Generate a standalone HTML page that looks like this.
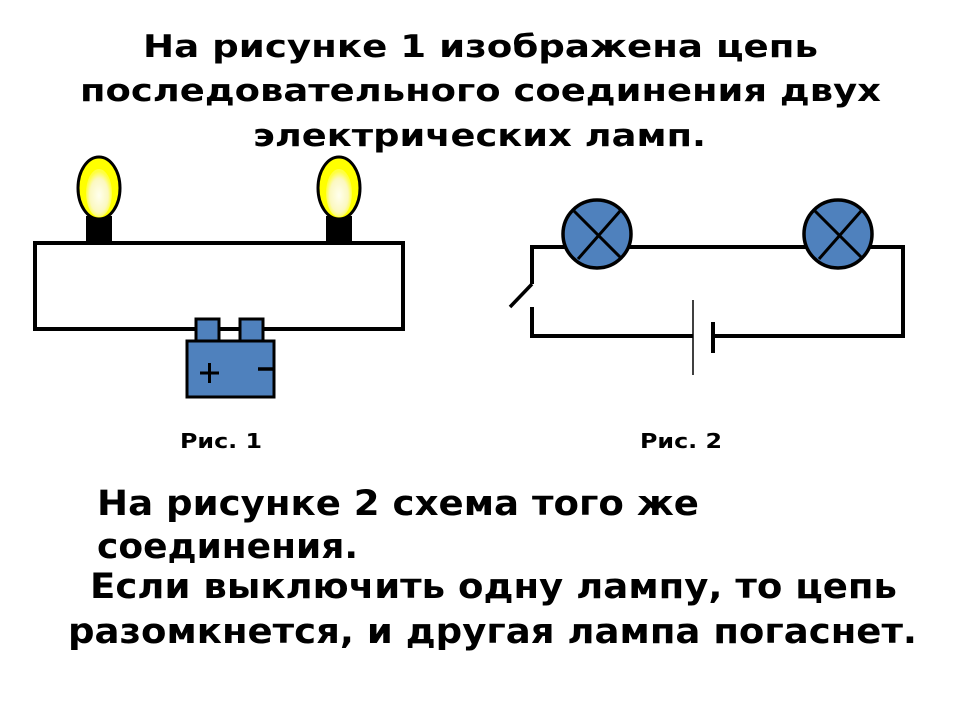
<!DOCTYPE html>
<html><head><meta charset="utf-8"><style>
html,body{margin:0;padding:0;background:#fff;width:960px;height:720px;overflow:hidden}
text{font-family:"DejaVu Sans","Liberation Sans",sans-serif;font-weight:bold;fill:#000}
</style></head><body>
<svg width="960" height="720" viewBox="0 0 960 720" xmlns="http://www.w3.org/2000/svg">
<defs>
<radialGradient id="g" cx="50%" cy="55%" r="50%">
<stop offset="0" stop-color="#ffffee"/><stop offset="0.7" stop-color="#fbf8c0"/><stop offset="1" stop-color="#ffff40"/>
</radialGradient>
</defs>
<text x="143" y="57" font-size="31" textLength="675" lengthAdjust="spacingAndGlyphs">На рисунке 1 изображена цепь</text>
<text x="80" y="101" font-size="31" textLength="801" lengthAdjust="spacingAndGlyphs">последовательного соединения двух</text>
<text x="253" y="146" font-size="31" textLength="453" lengthAdjust="spacingAndGlyphs">электрических ламп.</text>

<!-- fig1 -->
<rect x="35" y="243" width="368" height="86" fill="none" stroke="#000" stroke-width="4"/>
<rect x="86" y="216" width="26" height="27" fill="#000"/>
<rect x="326" y="216" width="26" height="27" fill="#000"/>
<ellipse cx="99" cy="188" rx="21" ry="31" fill="#ffff00" stroke="#000" stroke-width="3"/>
<ellipse cx="99" cy="193" rx="13" ry="24" fill="url(#g)"/>
<ellipse cx="339" cy="188" rx="21" ry="31" fill="#ffff00" stroke="#000" stroke-width="3"/>
<ellipse cx="339" cy="193" rx="13" ry="24" fill="url(#g)"/>
<rect x="196" y="319" width="23" height="22" fill="#4f81bd" stroke="#000" stroke-width="3"/>
<rect x="240" y="319" width="23" height="22" fill="#4f81bd" stroke="#000" stroke-width="3"/>
<rect x="187" y="341" width="87" height="56" fill="#4f81bd" stroke="#000" stroke-width="3"/>
<path d="M200 373H219M209.5 363V383" stroke="#000" stroke-width="3"/>
<path d="M258 369H273" stroke="#000" stroke-width="3.5"/>

<!-- fig2 -->
<path d="M532 284V247H903V336H713M693 336H532V307" fill="none" stroke="#000" stroke-width="4"/>
<path d="M532 284L510 307" stroke="#000" stroke-width="3.5"/>
<path d="M693 300V375" stroke="#000" stroke-width="1.5"/>
<path d="M713 322V353" stroke="#000" stroke-width="4"/>
<circle cx="597" cy="234" r="34" fill="#4f81bd" stroke="#000" stroke-width="3.5"/>
<path d="M573 210L622 259M621 210L578 259" stroke="#000" stroke-width="3"/>
<circle cx="838" cy="234" r="34" fill="#4f81bd" stroke="#000" stroke-width="3.5"/>
<path d="M814 210L863 259M862 210L819 259" stroke="#000" stroke-width="3"/>

<text x="180" y="448" font-size="20" textLength="82" lengthAdjust="spacingAndGlyphs">Рис. 1</text>
<text x="640" y="448" font-size="20" textLength="82" lengthAdjust="spacingAndGlyphs">Рис. 2</text>

<text x="97" y="515" font-size="35" textLength="602" lengthAdjust="spacingAndGlyphs">На рисунке 2 схема того же</text>
<text x="97" y="558" font-size="35" textLength="261" lengthAdjust="spacingAndGlyphs">соединения.</text>
<text x="90" y="598" font-size="35" textLength="807" lengthAdjust="spacingAndGlyphs">Если выключить одну лампу, то цепь</text>
<text x="68" y="643" font-size="35" textLength="849" lengthAdjust="spacingAndGlyphs">разомкнется, и другая лампа погаснет.</text>
</svg>
</body></html>
